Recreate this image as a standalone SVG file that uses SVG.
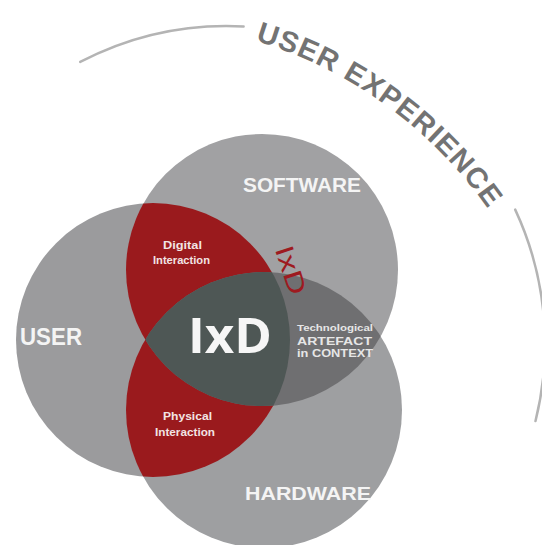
<svg xmlns="http://www.w3.org/2000/svg" width="542" height="545" viewBox="0 0 542 545">
  <style>
    .lbl { font-family: "Liberation Sans", Arial, sans-serif; font-weight: bold; fill: #f4f4f4; }
    .sm { font-family: "Liberation Sans", Arial, sans-serif; font-weight: bold; fill: #f2e4e4; }
    .tech { font-family: "Liberation Sans", Arial, sans-serif; font-weight: bold; fill: #e6e6e6; }
    .arc { fill: none; stroke: #b4b4b4; stroke-width: 2.5; stroke-linecap: round; }
    .ux { font-family: "Liberation Sans", Arial, sans-serif; font-weight: bold; font-size: 29px; letter-spacing: 1.2px; fill: #737373; }
  </style>
  <defs>
    <clipPath id="cU"><circle cx="153" cy="340" r="137"/></clipPath>
    <clipPath id="cS"><circle cx="262" cy="270" r="136"/></clipPath>
    <path id="uxPath" d="M 255.3 40.6 A 441.5 441.5 0 0 1 541.9 312"/>
  </defs>
  <rect width="542" height="545" fill="#ffffff"/>

  <g id="ux-arc">
    <path class="arc" d="M 80.2 61.9 A 318 318 0 0 1 243.6 26.4"/>
    <path class="arc" d="M 515.2 209.6 A 318 318 0 0 1 535.5 421"/>
  </g>

  <g id="user-experience">
    <text class="ux"><textPath href="#uxPath" startOffset="0">USER</textPath></text>
    <text class="ux"><textPath href="#uxPath" startOffset="94.5">EXPER</textPath></text>
    <text class="ux"><textPath href="#uxPath" startOffset="198.6">IENCE</textPath></text>
  </g>

  <g id="user"><circle cx="153" cy="340" r="137" fill="#9b9b9d"/></g>
  <g id="software"><circle cx="262" cy="270" r="136" fill="#a1a1a3"/></g>
  <g id="hardware"><circle cx="264" cy="410" r="138" fill="#9e9fa1"/></g>

  <g id="overlaps">
    <g clip-path="url(#cU)">
      <circle cx="262" cy="270" r="136" fill="#9a1a1d"/>
      <circle cx="264" cy="410" r="138" fill="#9a1a1d"/>
    </g>
    <g clip-path="url(#cS)">
      <circle cx="264" cy="410" r="138" fill="#6f6f71"/>
    </g>
    <g clip-path="url(#cU)">
      <g clip-path="url(#cS)">
        <circle cx="264" cy="410" r="138" fill="#4e5755"/>
      </g>
    </g>
  </g>

  <g id="ixd-red">
    <text transform="translate(291 270) rotate(72)" text-anchor="middle" dominant-baseline="central" font-family="'Liberation Sans', Arial, sans-serif" font-size="26" fill="#9e1a20" textLength="50" lengthAdjust="spacingAndGlyphs">IxD</text>
  </g>

  <g id="labels">
    <text class="lbl" x="20" y="345" font-size="23" textLength="62" lengthAdjust="spacingAndGlyphs">USER</text>
    <text class="lbl" x="243" y="192" font-size="20" textLength="118" lengthAdjust="spacingAndGlyphs">SOFTWARE</text>
    <text class="lbl" x="245" y="500" font-size="19" textLength="126" lengthAdjust="spacingAndGlyphs">HARDWARE</text>
  </g>

  <g id="ixd">
    <text x="188" y="353" font-family="'Open Sans', 'Liberation Sans', sans-serif" font-weight="bold" font-size="48" fill="#f6f6f6" textLength="84" lengthAdjust="spacingAndGlyphs">IxD</text>
  </g>

  <g id="digital-interaction">
    <text class="sm" x="163" y="249" font-size="10.5" textLength="39" lengthAdjust="spacingAndGlyphs">Digital</text>
    <text class="sm" x="153" y="264" font-size="10.5" textLength="57" lengthAdjust="spacingAndGlyphs">Interaction</text>
  </g>

  <g id="physical-interaction">
    <text class="sm" x="163" y="420" font-size="10.5" textLength="49" lengthAdjust="spacingAndGlyphs">Physical</text>
    <text class="sm" x="155" y="436" font-size="10.5" textLength="60" lengthAdjust="spacingAndGlyphs">Interaction</text>
  </g>

  <g id="tech-artefact">
    <text class="tech" x="297" y="331" font-size="9" textLength="76" lengthAdjust="spacingAndGlyphs">Technological</text>
    <text class="tech" x="297" y="345" font-size="11.5" textLength="75" lengthAdjust="spacingAndGlyphs">ARTEFACT</text>
    <text class="tech" x="297" y="357" font-size="10.5" textLength="76" lengthAdjust="spacingAndGlyphs">in CONTEXT</text>
  </g>
</svg>
